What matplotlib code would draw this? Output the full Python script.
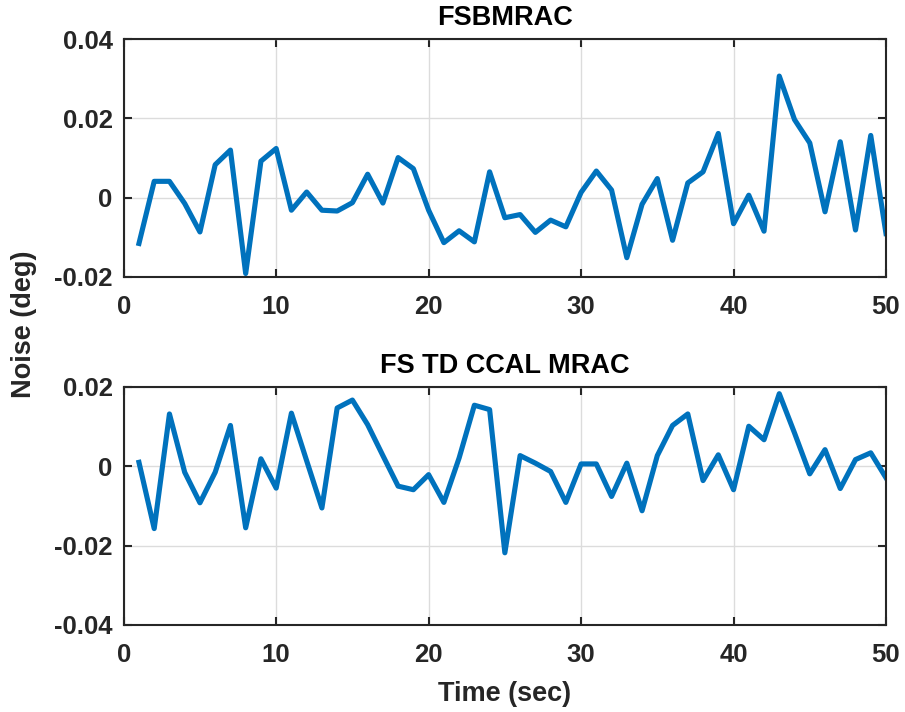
import matplotlib
matplotlib.use("Agg")
import matplotlib.pyplot as plt
from matplotlib.ticker import FuncFormatter

t = list(range(1, 51))

noise_fsbmrac = [
    -0.0116, 0.0041, 0.0041, -0.0015, -0.0087, 0.0083, 0.0120, -0.0192, 0.0092, 0.0124,
    -0.0032, 0.0014, -0.0032, -0.0034, -0.0013, 0.0059, -0.0014, 0.0101, 0.0073, -0.0032,
    -0.0114, -0.0084, -0.0112, 0.0065, -0.0051, -0.0043, -0.0088, -0.0057, -0.0074, 0.0013,
    0.0067, 0.0019, -0.0152, -0.0017, 0.0048, -0.0108, 0.0037, 0.0065, 0.0162, -0.0066,
    0.0006, -0.0085, 0.0307, 0.0197, 0.0138, -0.0036, 0.0141, -0.0082, 0.0157, -0.0091,
]

noise_fstd = [
    0.0010, -0.0157, 0.0132, -0.0015, -0.0092, -0.0015, 0.0103, -0.0155, 0.0019, -0.0055,
    0.0134, 0.0014, -0.0105, 0.0147, 0.0167, 0.0105, 0.0027, -0.0050, -0.0059, -0.0021,
    -0.0091, 0.0021, 0.0154, 0.0143, -0.0218, 0.0027, 0.0008, -0.0013, -0.0091, 0.0006,
    0.0006, -0.0076, 0.0008, -0.0112, 0.0027, 0.0103, 0.0132, -0.0036, 0.0029, -0.0059,
    0.0101, 0.0067, 0.0183, 0.0084, -0.0019, 0.0042, -0.0056, 0.0017, 0.0034, -0.0029,
]

titles = ["FSBMRAC", "FS TD CCAL MRAC"]
ylims = [(-0.02, 0.04), (-0.04, 0.02)]
xticks = [0, 10, 20, 30, 40, 50]

plt.rcParams["font.family"] = ["Liberation Sans", "DejaVu Sans"]
plt.rcParams["font.weight"] = "bold"

blue = "#0072BD"
dark = "#262626"


def fmt(v, pos):
    if abs(v) < 1e-9:
        return "0"
    return "%.2f" % v


fig = plt.figure(figsize=(9.05, 7.12), dpi=100)
ax1 = fig.add_axes([0.1367, 0.6114, 0.8423, 0.3334])
ax2 = fig.add_axes([0.1367, 0.1222, 0.8423, 0.3343])

for ax, y, title, ylim in zip([ax1, ax2], [noise_fsbmrac, noise_fstd], titles, ylims):
    ax.plot(t, y, color=blue, linewidth=3.7)
    ax.set_xlim(0, 50)
    ax.set_ylim(*ylim)
    ax.set_xticks(xticks)
    ax.set_yticks([ylim[0] + 0.02 * i for i in range(4)])
    ax.yaxis.set_major_formatter(FuncFormatter(fmt))
    ax.grid(True, color="#dcdcdc", linewidth=1.0)
    ax.set_axisbelow(True)
    ax.tick_params(direction="in", length=6, width=1.5, colors=dark,
                   labelsize=18.5, top=True, right=True)
    ax.tick_params(axis="x", pad=13)
    ax.tick_params(axis="y", pad=8)
    for s in ax.spines.values():
        s.set_linewidth(1.5)
        s.set_color(dark)
    for lab in ax.get_xticklabels() + ax.get_yticklabels():
        lab.set_fontweight("bold")
    ax.set_title(title, fontsize=19.5, fontweight="bold", color="black", pad=10)

ax2.set_xlabel("Time (sec)", fontsize=19.5, fontweight="bold", color=dark, labelpad=10)
fig.text(0.027, 0.545, "Noise (deg)", rotation=90, ha="center", va="center",
         fontsize=19.5, fontweight="bold", color=dark)

fig.savefig("out.png", dpi=100)
